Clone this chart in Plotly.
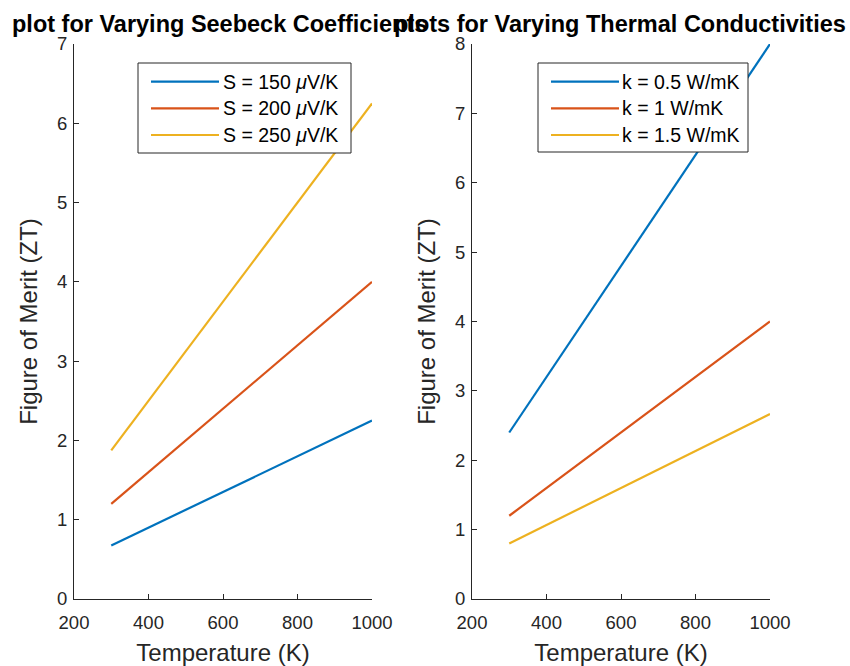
import plotly.graph_objects as go

# Data
temperature = [300, 1000]
seebeck_labels = ["S = 150 <i>μ</i>V/K", "S = 200 <i>μ</i>V/K", "S = 250 <i>μ</i>V/K"]
zt_s150 = [0.675, 2.25]
zt_s200 = [1.2, 4.0]
zt_s250 = [1.875, 6.25]
k_labels = ["k = 0.5 W/mK", "k = 1 W/mK", "k = 1.5 W/mK"]
zt_k05 = [2.4, 8.0]
zt_k1 = [1.2, 4.0]
zt_k15 = [0.8, 2.667]
x_ticks = [200, 400, 600, 800, 1000]

colors = ["#0072BD", "#D95319", "#EDB120"]
W, H = 850, 666
FONT = "Liberation Sans, Arial, sans-serif"
AX = "#262626"

def px(x):
    return x / W

def py(y):
    return 1 - y / H

fig = go.Figure()
left_series = [zt_s150, zt_s200, zt_s250]
right_series = [zt_k05, zt_k1, zt_k15]
for i, ys in enumerate(left_series):
    fig.add_trace(go.Scatter(x=temperature, y=ys, mode="lines", line=dict(color=colors[i], width=2.2),
                             xaxis="x", yaxis="y", showlegend=False, name=seebeck_labels[i]))
for i, ys in enumerate(right_series):
    fig.add_trace(go.Scatter(x=temperature, y=ys, mode="lines", line=dict(color=colors[i], width=2.2),
                             xaxis="x2", yaxis="y2", showlegend=False, name=k_labels[i]))

common_ax = dict(showline=True, linecolor=AX, linewidth=1, ticks="inside", ticklen=5, tickcolor=AX,
                 showgrid=False, zeroline=False, tickfont=dict(family=FONT, size=18.5, color=AX),
                 automargin=False, mirror=False)
ydom = [py(599), py(44)]
xt = dict(text="Temperature (K)", font=dict(family=FONT, size=24, color=AX), standoff=14)
yt = dict(text="Figure of Merit (ZT)", font=dict(family=FONT, size=24, color=AX), standoff=12)
fig.update_layout(
    width=W, height=H, margin=dict(l=0, r=0, t=0, b=0),
    paper_bgcolor="white", plot_bgcolor="white",
    xaxis=dict(domain=[px(74), px(372)], range=[200, 1000], tickvals=x_ticks, anchor="y", title=xt,
               ticklabelstandoff=7, **common_ax),
    yaxis=dict(domain=ydom, range=[0, 7], dtick=1, anchor="x", title=yt, ticklabelstandoff=2, **common_ax),
    xaxis2=dict(domain=[px(472), px(770)], range=[200, 1000], tickvals=x_ticks, anchor="y2", title=xt,
                ticklabelstandoff=7, **common_ax),
    yaxis2=dict(domain=ydom, range=[0, 8], dtick=1, anchor="x2", title=yt, ticklabelstandoff=2, **common_ax),
)

# Titles
fig.add_annotation(x=px(219), y=py(24), xref="paper", yref="paper", text="<b>plot for Varying Seebeck Coefficients</b>",
                   showarrow=False, font=dict(family=FONT, size=23.5, color="black"), xanchor="center", yanchor="middle")
fig.add_annotation(x=px(620), y=py(24), xref="paper", yref="paper", text="<b>plots for Varying Thermal Conductivities</b>",
                   showarrow=False, font=dict(family=FONT, size=23.5, color="black"), xanchor="center", yanchor="middle")

# Custom legends
def legend(box, line_x, text_x, rows, labels):
    x0, y0, x1, y1 = box
    fig.add_shape(type="rect", xref="paper", yref="paper", x0=px(x0), x1=px(x1), y0=py(y1), y1=py(y0),
                  line=dict(color=AX, width=1), fillcolor="white", layer="above")
    for i, (yy, lab) in enumerate(zip(rows, labels)):
        fig.add_shape(type="line", xref="paper", yref="paper", x0=px(line_x[0]), x1=px(line_x[1]),
                      y0=py(yy), y1=py(yy), line=dict(color=colors[i], width=2.2), layer="above")
        fig.add_annotation(x=px(text_x), y=py(yy), xref="paper", yref="paper", text=lab, showarrow=False,
                           xanchor="left", yanchor="middle", font=dict(family=FONT, size=19.5, color="black"))

rows = [81.7, 108.3, 135]
legend((138, 63, 351, 153), (151, 219), 221, rows, seebeck_labels)
legend((538, 63, 748, 152), (551, 619), 620, rows, k_labels)

fig.write_html("out.html", config={"displayModeBar": False},
               post_script="document.body.style.margin='0';")
